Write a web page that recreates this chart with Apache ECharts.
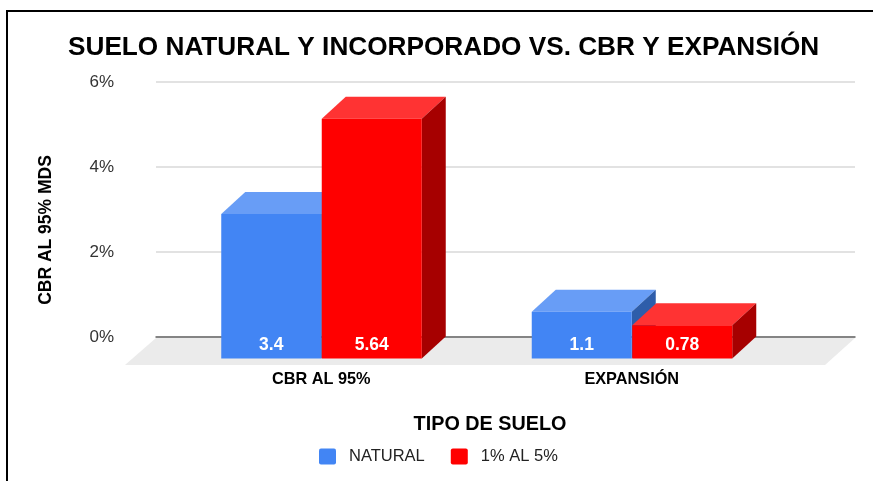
<!DOCTYPE html>
<html>
<head>
<meta charset="utf-8">
<style>html,body{margin:0;padding:0;background:#fff}#c{width:873px;height:481px}</style>
<script src="https://cdn.jsdelivr.net/npm/echarts@6/dist/echarts.min.js"></script>
</head>
<body>
<div id="c"></div>
<script>
const categories = ['CBR AL 95%', 'EXPANSIÓN'];
const natural = [3.4, 1.1];
const incorporado = [5.64, 0.78];
const yTicks = { min: 0, max: 6, interval: 2 };

const FONT = '"Liberation Sans", Arial, sans-serif';
const BAR_W = 100, DX = 24, DY = 22, DROP = 21.5;

function box(colors, side) {
  return function (params, api) {
    const i = api.value(0), v = api.value(1);
    const p0 = api.coord([i, 0]);
    const pv = api.coord([i, v]);
    const xL = p0[0] + (side < 0 ? -BAR_W : 0) + (side < 0 ? 0 : 0.5);
    const xR = xL + BAR_W;
    const yB = p0[1] + DROP;
    const yT = pv[1] + DROP;
    return {
      type: 'group',
      children: [
        { type: 'polygon', shape: { points: [[xL, yT], [xL + DX, yT - DY], [xR + DX, yT - DY], [xR, yT]] }, style: { fill: colors.top } },
        { type: 'polygon', shape: { points: [[xR, yT], [xR + DX, yT - DY], [xR + DX, yB - DY], [xR, yB]] }, style: { fill: colors.side } },
        { type: 'rect', shape: { x: xL, y: yT, width: BAR_W, height: yB - yT }, style: { fill: colors.front } },
        { type: 'text', style: { text: String(v), x: xL + BAR_W / 2, y: yB - 13, align: 'center', verticalAlign: 'middle', fill: '#fff', font: 'bold 17.5px ' + FONT } }
      ]
    };
  };
}

function floor(params, api) {
  const c = params.coordSys;
  const yB = c.y + c.height;
  return {
    type: 'polygon',
    shape: { points: [[c.x, yB + 1], [c.x + c.width, yB + 1], [c.x + c.width - 30, yB + 28], [c.x - 31, yB + 28]] },
    style: { fill: '#ebebeb' }
  };
}

const chart = echarts.init(document.getElementById('c'), null, { renderer: 'canvas' });
chart.setOption({
  animation: false,
  backgroundColor: '#fff',
  title: {
    text: 'SUELO NATURAL Y INCORPORADO VS. CBR Y EXPANSIÓN',
    left: 63, top: 30,
    textStyle: { fontFamily: FONT, fontSize: 26.2, fontWeight: 'bold', color: '#000' }
  },
  legend: {
    data: ['NATURAL', '1% AL 5%'],
    left: 314, top: 443,
    itemWidth: 17, itemHeight: 16, itemGap: 26,
    icon: 'path://M2,0H15Q17,0 17,2V14Q17,16 15,16H2Q0,16 0,14V2Q0,0 2,0Z',
    textStyle: { fontFamily: FONT, fontSize: 16.5, color: '#222', padding: [0, 0, 0, 8] }
  },
  grid: [
    { left: 156, width: 699, top: 82, height: 255 },
    { left: 166, width: 621, top: 82, height: 255 }
  ],
  xAxis: [
    { type: 'category', gridIndex: 0, data: categories, axisLine: { lineStyle: { color: '#666', width: 1.5 } }, axisTick: { show: false }, axisLabel: { show: false } },
    {
      type: 'category', gridIndex: 1, data: categories,
      axisLine: { show: false }, axisTick: { show: false },
      axisLabel: { margin: 35, fontFamily: FONT, fontSize: 16.3, fontWeight: 'bold', color: '#000' },
      name: 'TIPO DE SUELO', nameLocation: 'middle', nameGap: 78,
      nameTextStyle: { fontFamily: FONT, fontSize: 19.8, fontWeight: 'bold', color: '#000', padding: [0, 0, 0, 27] }
    }
  ],
  yAxis: [
    {
      type: 'value', gridIndex: 0, min: yTicks.min, max: yTicks.max, interval: yTicks.interval,
      axisLine: { show: false }, axisTick: { show: false },
      splitLine: { lineStyle: { color: '#d9d9d9', width: 1.5 } },
      axisLabel: { formatter: '{value}%', margin: 42, fontFamily: FONT, fontSize: 17, color: '#333' },
      name: 'CBR AL 95% MDS', nameLocation: 'middle', nameGap: 101,
      nameTextStyle: { fontFamily: FONT, fontSize: 17.5, fontWeight: 'bold', color: '#000', padding: [0, 41, 0, 0] }
    },
    { type: 'value', gridIndex: 1, min: yTicks.min, max: yTicks.max, interval: yTicks.interval, show: false }
  ],
  series: [
    { type: 'custom', name: 'floor', silent: true, xAxisIndex: 0, yAxisIndex: 0, z: 1, clip: false, renderItem: floor, data: [[0, 0]] },
    {
      type: 'custom', name: 'NATURAL', xAxisIndex: 1, yAxisIndex: 1, z: 3, clip: false,
      itemStyle: { color: '#4285f4' },
      renderItem: box({ front: '#4285f4', top: '#689df6', side: '#2e5daa' }, -1),
      encode: { x: 0, y: 1 }, data: natural.map((v, i) => [i, v])
    },
    {
      type: 'custom', name: '1% AL 5%', xAxisIndex: 1, yAxisIndex: 1, z: 4, clip: false,
      itemStyle: { color: '#ff0000' },
      renderItem: box({ front: '#ff0000', top: '#ff3333', side: '#a60000' }, 1),
      encode: { x: 0, y: 1 }, data: incorporado.map((v, i) => [i, v])
    }
  ],
  graphic: [
    { type: 'polyline', silent: true, shape: { points: [[873, 11], [7, 11], [7, 481]] }, style: { stroke: '#000', lineWidth: 2, fill: null } }
  ]
});
</script>
</body>
</html>
